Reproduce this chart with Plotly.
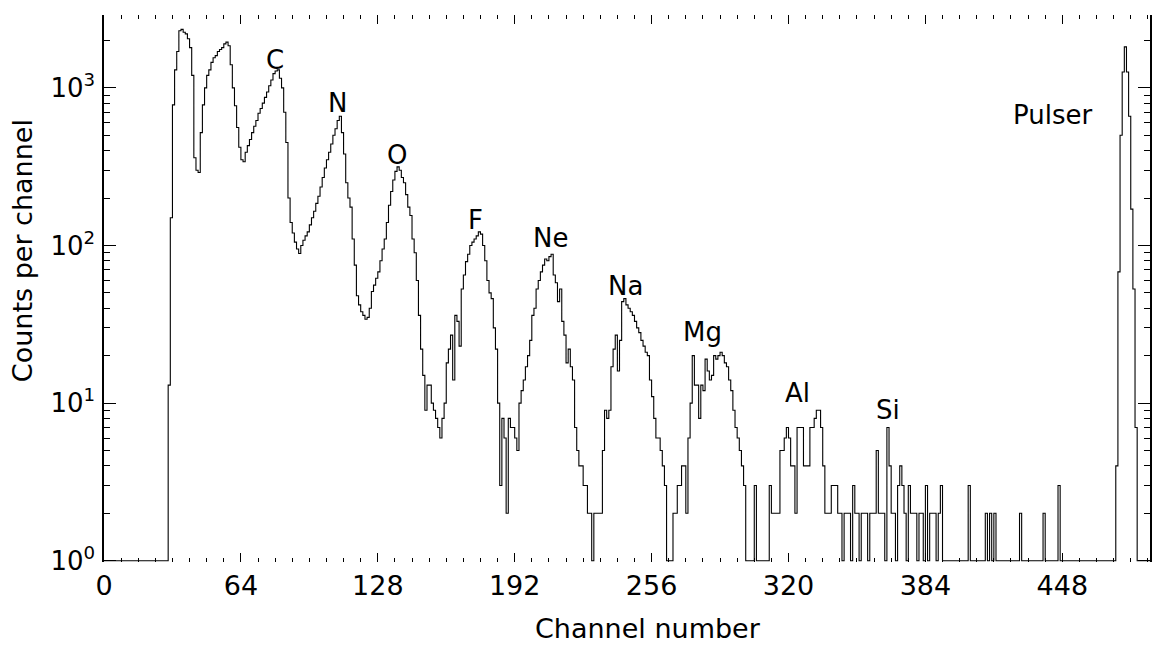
import math
import plotly.graph_objects as go

# ---------------- data ----------------
# main spectrum: counts per channel for channels 30..300
main_start = 30
main_counts = [
    13, 150, 780, 1300, 1700, 2300, 2350, 2250, 2200, 2050,          # 30-39
    1800, 1200, 360, 300, 290, 520, 780, 1000, 1200, 1300,           # 40-49
    1450, 1550, 1600, 1700, 1750, 1800, 1900, 1950, 1850, 1400,      # 50-59
    1000, 770, 560, 420, 350, 340, 390, 430, 470, 520,               # 60-69
    570, 620, 690, 740, 800, 870, 940, 1030, 1120, 1230,             # 70-79
    1280, 1300, 1150, 1000, 700, 450, 200, 140, 120, 105,            # 80-89
    95, 89, 100, 108, 115, 122, 135, 150, 165, 185,                  # 90-99
    205, 235, 270, 310, 350, 390, 440, 500, 550, 620,                # 100-109
    660, 520, 380, 250, 200, 175, 110, 75, 48, 42,                   # 110-119
    38, 36, 34, 35, 40, 51, 56, 62, 68, 80,                          # 120-129
    95, 110, 140, 180, 220, 260, 295, 315, 300, 270,                 # 130-139
    250, 210, 175, 155, 110, 90, 60, 36, 22, 15,                     # 140-149
    9, 13, 13, 10, 9, 8, 7, 6, 8, 10,                                # 150-159
    18, 22, 27, 14, 36, 33, 23, 53, 65, 79,                          # 160-169
    88, 100, 105, 110, 115, 122, 118, 100, 80, 60,                   # 170-179
    50, 46, 30, 22, 10, 3, 8, 6, 2, 8,                               # 180-189
    7, 7, 6, 5, 10, 12, 14, 17, 20, 25,                              # 190-199
    36, 40, 53, 60, 68, 75, 82, 80, 85, 88,                          # 200-209
    65, 58, 44, 53, 33, 27, 18, 22, 17, 14,                          # 210-219
    7, 5, 4, 4, 3, 3, 2, 2, 1, 2,                                    # 220-229
    2, 2, 2, 5, 9, 8, 9, 17, 22, 27,                                 # 230-239
    16, 25, 44, 46, 42, 40, 38, 36, 33, 30,                          # 240-249
    28, 25, 23, 21, 20, 14, 11, 8, 6, 6,                             # 250-259
    5, 4, 3, 1, 1, 1, 2, 2, 3, 3,                                    # 260-269
    4, 4, 2, 6, 10, 20, 13, 13, 8, 13,                               # 270-279
    12, 19, 16, 14, 15, 20, 19, 20, 21, 20,                          # 280-289
    18, 17, 14, 12, 9, 7, 6, 5, 4, 3,                                # 290-299
    1,                                                               # 300
]

# sparse tail (Al, Si region and beyond)
tail_channels = [304, 311, 312, 313, 314, 315, 316, 317, 318, 319, 320, 321, 322,
                 323, 324, 325, 326, 327, 328, 329, 330, 331, 332, 333, 334, 335,
                 336, 337, 338, 339, 340, 341, 342, 343, 344, 346, 347, 348, 350,
                 351, 352, 354, 355, 356, 358, 359, 360, 361, 362, 363, 364, 366,
                 367, 368, 369, 371, 372, 373, 374, 376, 377, 378, 379, 381, 382,
                 384, 386, 387, 388, 390, 391, 404, 412, 414, 416, 428, 439, 446]
tail_counts = [3, 3, 2, 2, 2, 2, 5, 5, 6, 7, 6, 4, 4,
               2, 7, 7, 7, 4, 4, 4, 7, 7, 8, 9, 9, 7,
               4, 2, 2, 2, 3, 3, 3, 2, 2, 2, 2, 2, 3,
               2, 2, 2, 2, 2, 2, 2, 2, 5, 2, 2, 2, 7,
               4, 2, 2, 3, 4, 3, 2, 3, 2, 2, 2, 2, 2,
               3, 2, 2, 2, 2, 3, 3, 2, 2, 2, 2, 2, 3]

# pulser peak
pulser_channels = [473, 474, 475, 476, 477, 478, 479, 480, 481, 482]
pulser_counts = [4, 68, 500, 1260, 1820, 1260, 660, 170, 53, 7]

n_channels = 490
x_ticks = [0, 64, 128, 192, 256, 320, 384, 448]
y_ticks = [1, 10, 100, 1000]
y_ticktext = ["10<sup>0</sup>", "10<sup>1</sup>", "10<sup>2</sup>", "10<sup>3</sup>"]

labels = ["C", "N", "O", "F", "Ne", "Na", "Mg", "Al", "Si", "Pulser"]
label_ch = [80, 109, 137, 173.5, 208.6, 243.7, 279.7, 324, 366.7, 443.4]
label_counts = [1500, 800, 376, 145, 112, 55, 28.3, 11.6, 9.1, 673]

x_title = "Channel number"
y_title = "Counts per channel"

# ---------------- build histogram ----------------
counts = [0] * n_channels
for i, c in enumerate(main_counts):
    counts[main_start + i] = c
for ch, c in zip(tail_channels, tail_counts):
    counts[ch] = c
for ch, c in zip(pulser_channels, pulser_counts):
    counts[ch] = c
# empty channels sit on the 10^0 baseline of the log axis
plot_counts = [max(c, 1) for c in counts]
channels = list(range(n_channels))

FONT = "DejaVu Sans"

fig = go.Figure()
fig.add_trace(go.Scatter(
    x=channels, y=plot_counts, mode="lines",
    line=dict(shape="hv", color="black", width=1.1),
    hoverinfo="x+y", showlegend=False,
))

for t, xv, yv in zip(labels, label_ch, label_counts):
    fig.add_annotation(x=xv, y=math.log10(yv), text=t, showarrow=False,
                       font=dict(family=FONT, size=26, color="black"),
                       xanchor="center", yanchor="middle")

# axis titles (placed as in the reference, slightly off-centre)
fig.add_annotation(text=x_title, xref="paper", yref="paper", x=0.520, y=-0.121,
                   showarrow=False, xanchor="center", yanchor="middle",
                   font=dict(family=FONT, size=27, color="black"))
fig.add_annotation(text=y_title, xref="paper", yref="paper", x=-0.078, y=0.569,
                   showarrow=False, xanchor="center", yanchor="middle", textangle=-90,
                   font=dict(family=FONT, size=27, color="black"))

# page body has an 8px margin: size the figure so the plot lands where the reference's does
fig.update_layout(
    width=1152, height=640,
    margin=dict(l=96, r=10, t=7, b=86),
    paper_bgcolor="white", plot_bgcolor="white",
    font=dict(family=FONT, color="black"),
    showlegend=False,
)
fig.update_xaxes(
    range=[0, n_channels - 1], automargin=False,
    tickvals=x_ticks,
    ticks="inside", ticklen=9, tickwidth=1.2, tickcolor="black",
    minor=dict(dtick=8, tick0=0, ticks="inside", ticklen=4, tickcolor="black", showgrid=False),
    showline=False, mirror="ticks",
    showgrid=False, zeroline=False,
    tickfont=dict(family=FONT, size=27, color="black"),
    ticklabelstandoff=5,
)
fig.update_yaxes(
    type="log", range=[-0.008, 3.462], automargin=False,
    tickvals=y_ticks, ticktext=y_ticktext,
    ticks="inside", ticklen=12, tickwidth=1.2, tickcolor="black",
    minor=dict(dtick="D1", ticks="inside", ticklen=6, tickcolor="black", showgrid=False),
    showline=True, linecolor="black", linewidth=1.5, mirror="ticks",
    showgrid=False, zeroline=False,
    tickfont=dict(family=FONT, size=26, color="black"),
    ticklabelstandoff=2,
)

fig.write_html("out.html")
